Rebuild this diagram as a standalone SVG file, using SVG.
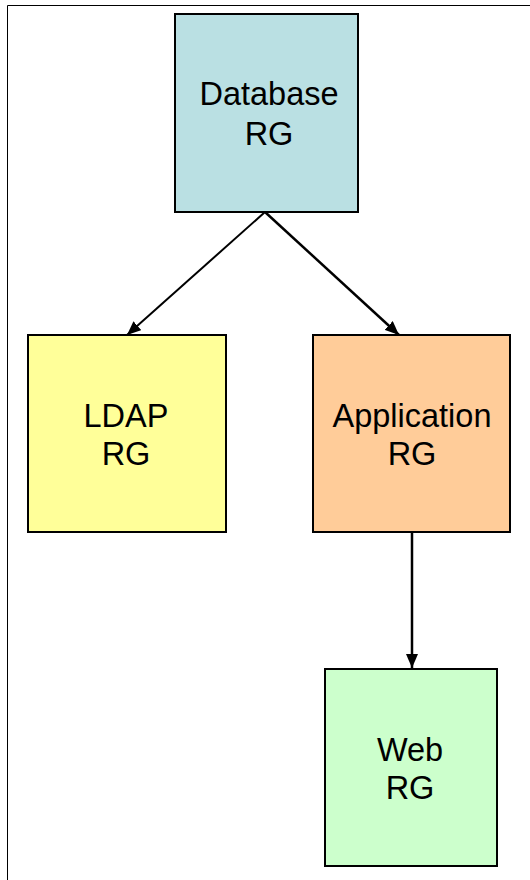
<svg xmlns="http://www.w3.org/2000/svg" width="530" height="880" viewBox="0 0 530 880">
<defs>
<style>
.box{stroke:#000;stroke-width:2}
.lbl{font-family:"Liberation Sans",Arial,sans-serif;font-size:32.5px;fill:#000;text-anchor:middle}
.edge{stroke:#000;stroke-width:2;fill:none;marker-end:url(#ah)}
</style>
<marker id="ah" viewBox="0 0 14 12" refX="14" refY="6" markerWidth="14" markerHeight="12" markerUnits="userSpaceOnUse" orient="auto">
<path d="M0,0 L14,6 L0,12 Z" fill="#000"/>
</marker>
</defs>
<rect width="530" height="880" fill="#fff"/>
<path d="M7.5,880 V5.5 H530" stroke="#000" stroke-width="1" fill="none"/>
<g id="connectors">
<line class="edge" x1="265" y1="212" x2="127" y2="335"/>
<line class="edge" x1="265" y1="212" x2="399" y2="335" style="stroke-width:2.5"/>
<line class="edge" x1="412" y1="533" x2="412" y2="668" style="stroke-width:2.5"/>
</g>
<g id="database">
<rect class="box" x="175" y="14" width="183" height="198" fill="#BAE0E3"/>
<text class="lbl" x="269" y="105">Database</text>
<text class="lbl" x="269" y="145">RG</text>
</g>
<g id="ldap">
<rect class="box" x="28" y="335" width="198" height="197" fill="#FFFF99"/>
<text class="lbl" x="126" y="427">LDAP</text>
<text class="lbl" x="126" y="465">RG</text>
</g>
<g id="application">
<rect class="box" x="313" y="335" width="197" height="197" fill="#FFCC99"/>
<text class="lbl" x="412" y="427">Application</text>
<text class="lbl" x="412" y="465">RG</text>
</g>
<g id="web">
<rect class="box" x="325" y="669" width="172" height="197" fill="#CCFFCC"/>
<text class="lbl" x="410" y="761">Web</text>
<text class="lbl" x="410" y="799">RG</text>
</g>
</svg>
